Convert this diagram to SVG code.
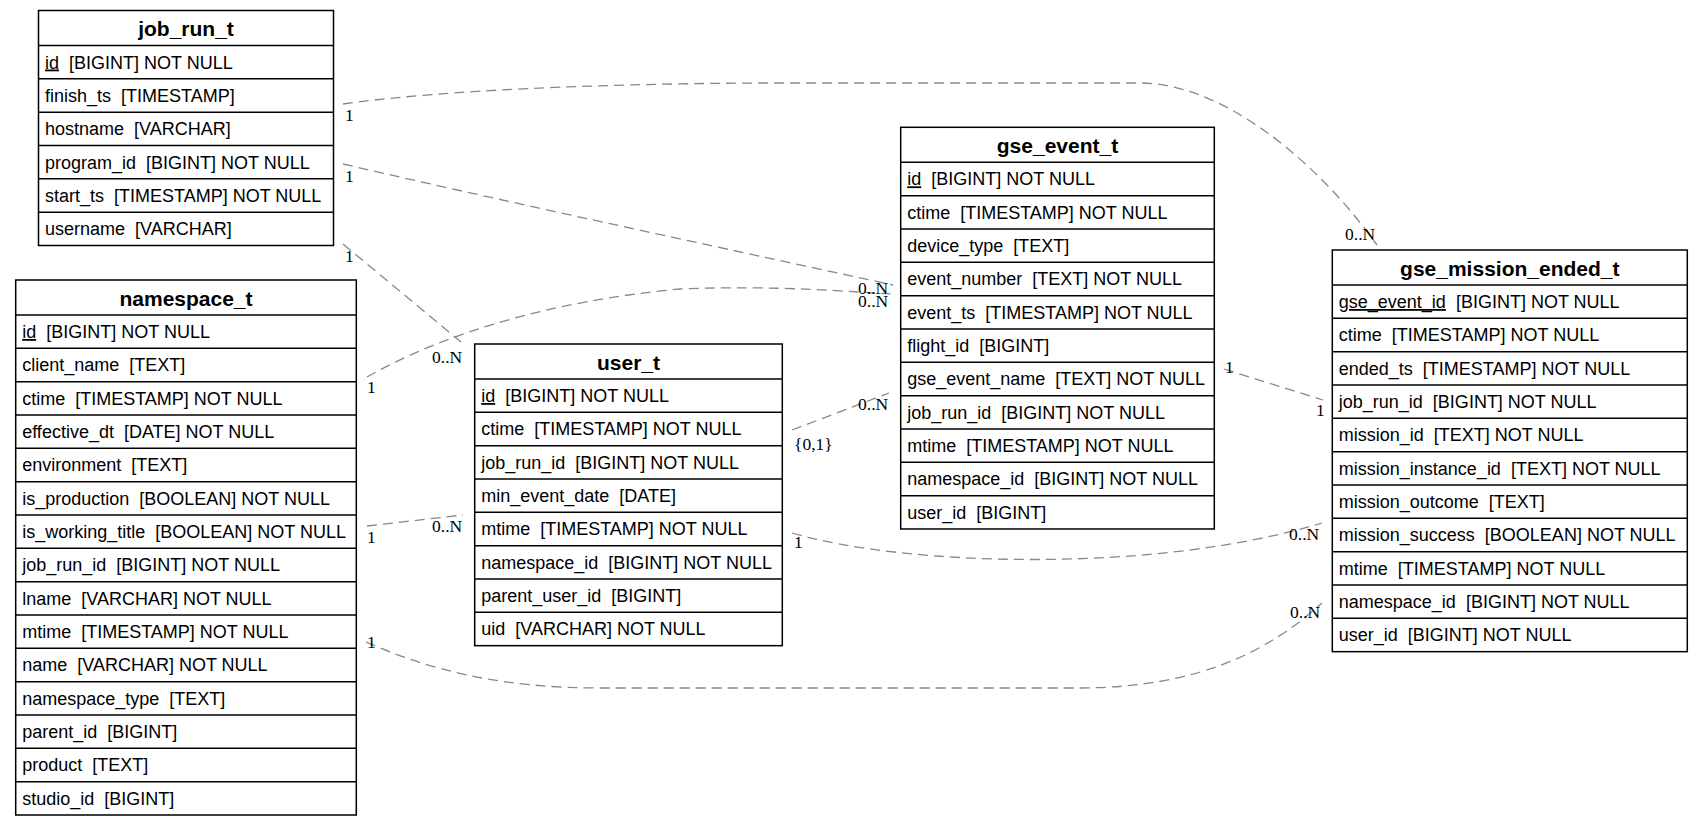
<svg xmlns="http://www.w3.org/2000/svg" width="1703" height="827" viewBox="0 0 1703 827">
<style>
.tbl{fill:#fff;stroke:#000;stroke-width:1.5}
.sep{stroke:#000;stroke-width:1.5}
.hdr{font-family:"Liberation Sans",Arial,sans-serif;font-weight:bold;font-size:21px;text-anchor:middle;fill:#000}
.row{font-family:"Liberation Sans",Arial,sans-serif;font-size:18px;fill:#000;white-space:pre}
.edge{fill:none;stroke:#888;stroke-width:1.3;stroke-dasharray:10,6}
.lbl{font-family:"Liberation Serif","Times New Roman",serif;font-size:17.5px;fill:#000}
</style>
<rect width="1703" height="827" fill="#fff"/>
<g id="connectors">
<path class="edge" d="M343,104 C420,93 560,84 760,83 L1140,83 C1225,83 1320,165 1377,245"/>
<path class="edge" d="M343,164 C520,205 760,256 893,285"/>
<path class="edge" d="M343,244 L461,342"/>
<path class="edge" d="M367,377 C450,330 560,300 680,289 C780,285 850,292 893,294"/>
<path class="edge" d="M367,526 L463,515"/>
<path class="edge" d="M366,642 C430,670 500,688 600,688 L1078,688 C1200,688 1270,650 1322,603"/>
<path class="edge" d="M792,430 L889,393"/>
<path class="edge" d="M792,533 C900,565 1150,575 1322,523"/>
<path class="edge" d="M1224,369 L1323,400"/>
<text class="lbl" x="345" y="121">1</text>
<text class="lbl" x="1345" y="240">0..N</text>
<text class="lbl" x="345" y="182">1</text>
<text class="lbl" x="858" y="294">0..N</text>
<text class="lbl" x="345" y="262">1</text>
<text class="lbl" x="432" y="363">0..N</text>
<text class="lbl" x="367" y="393">1</text>
<text class="lbl" x="858" y="307">0..N</text>
<text class="lbl" x="367" y="543">1</text>
<text class="lbl" x="432" y="532">0..N</text>
<text class="lbl" x="367" y="648">1</text>
<text class="lbl" x="1290" y="618">0..N</text>
<text class="lbl" x="794" y="450">{0,1}</text>
<text class="lbl" x="858" y="410">0..N</text>
<text class="lbl" x="794" y="548">1</text>
<text class="lbl" x="1289" y="540">0..N</text>
<text class="lbl" x="1225" y="373">1</text>
<text class="lbl" x="1316" y="416">1</text>
</g>
<g id="job_run_t">
<rect class="tbl" x="38.5" y="10.5" width="295" height="235"/>
<line class="sep" x1="38.5" y1="45.5" x2="333.5" y2="45.5"/>
<line class="sep" x1="38.5" y1="78.83" x2="333.5" y2="78.83"/>
<line class="sep" x1="38.5" y1="112.17" x2="333.5" y2="112.17"/>
<line class="sep" x1="38.5" y1="145.5" x2="333.5" y2="145.5"/>
<line class="sep" x1="38.5" y1="178.83" x2="333.5" y2="178.83"/>
<line class="sep" x1="38.5" y1="212.17" x2="333.5" y2="212.17"/>
<text class="hdr" x="186" y="36">job_run_t</text>
<text class="row" x="45" y="68.5"><tspan text-decoration="underline">id</tspan>  [BIGINT] NOT NULL</text>
<text class="row" x="45" y="101.8">finish_ts  [TIMESTAMP]</text>
<text class="row" x="45" y="135.2">hostname  [VARCHAR]</text>
<text class="row" x="45" y="168.5">program_id  [BIGINT] NOT NULL</text>
<text class="row" x="45" y="201.8">start_ts  [TIMESTAMP] NOT NULL</text>
<text class="row" x="45" y="235.2">username  [VARCHAR]</text>
</g>
<g id="namespace_t">
<rect class="tbl" x="15.7" y="280" width="340.6" height="535"/>
<line class="sep" x1="15.7" y1="315" x2="356.3" y2="315"/>
<line class="sep" x1="15.7" y1="348.33" x2="356.3" y2="348.33"/>
<line class="sep" x1="15.7" y1="381.67" x2="356.3" y2="381.67"/>
<line class="sep" x1="15.7" y1="415" x2="356.3" y2="415"/>
<line class="sep" x1="15.7" y1="448.33" x2="356.3" y2="448.33"/>
<line class="sep" x1="15.7" y1="481.67" x2="356.3" y2="481.67"/>
<line class="sep" x1="15.7" y1="515" x2="356.3" y2="515"/>
<line class="sep" x1="15.7" y1="548.33" x2="356.3" y2="548.33"/>
<line class="sep" x1="15.7" y1="581.67" x2="356.3" y2="581.67"/>
<line class="sep" x1="15.7" y1="615" x2="356.3" y2="615"/>
<line class="sep" x1="15.7" y1="648.33" x2="356.3" y2="648.33"/>
<line class="sep" x1="15.7" y1="681.67" x2="356.3" y2="681.67"/>
<line class="sep" x1="15.7" y1="715" x2="356.3" y2="715"/>
<line class="sep" x1="15.7" y1="748.33" x2="356.3" y2="748.33"/>
<line class="sep" x1="15.7" y1="781.67" x2="356.3" y2="781.67"/>
<text class="hdr" x="186" y="305.5">namespace_t</text>
<text class="row" x="22.2" y="338"><tspan text-decoration="underline">id</tspan>  [BIGINT] NOT NULL</text>
<text class="row" x="22.2" y="371.3">client_name  [TEXT]</text>
<text class="row" x="22.2" y="404.7">ctime  [TIMESTAMP] NOT NULL</text>
<text class="row" x="22.2" y="438">effective_dt  [DATE] NOT NULL</text>
<text class="row" x="22.2" y="471.3">environment  [TEXT]</text>
<text class="row" x="22.2" y="504.7">is_production  [BOOLEAN] NOT NULL</text>
<text class="row" x="22.2" y="538">is_working_title  [BOOLEAN] NOT NULL</text>
<text class="row" x="22.2" y="571.3">job_run_id  [BIGINT] NOT NULL</text>
<text class="row" x="22.2" y="604.7">lname  [VARCHAR] NOT NULL</text>
<text class="row" x="22.2" y="638">mtime  [TIMESTAMP] NOT NULL</text>
<text class="row" x="22.2" y="671.3">name  [VARCHAR] NOT NULL</text>
<text class="row" x="22.2" y="704.7">namespace_type  [TEXT]</text>
<text class="row" x="22.2" y="738">parent_id  [BIGINT]</text>
<text class="row" x="22.2" y="771.3">product  [TEXT]</text>
<text class="row" x="22.2" y="804.7">studio_id  [BIGINT]</text>
</g>
<g id="user_t">
<rect class="tbl" x="474.7" y="344" width="307.6" height="301.67"/>
<line class="sep" x1="474.7" y1="379" x2="782.3" y2="379"/>
<line class="sep" x1="474.7" y1="412.33" x2="782.3" y2="412.33"/>
<line class="sep" x1="474.7" y1="445.67" x2="782.3" y2="445.67"/>
<line class="sep" x1="474.7" y1="479" x2="782.3" y2="479"/>
<line class="sep" x1="474.7" y1="512.33" x2="782.3" y2="512.33"/>
<line class="sep" x1="474.7" y1="545.67" x2="782.3" y2="545.67"/>
<line class="sep" x1="474.7" y1="579" x2="782.3" y2="579"/>
<line class="sep" x1="474.7" y1="612.33" x2="782.3" y2="612.33"/>
<text class="hdr" x="628.5" y="369.5">user_t</text>
<text class="row" x="481.2" y="402"><tspan text-decoration="underline">id</tspan>  [BIGINT] NOT NULL</text>
<text class="row" x="481.2" y="435.3">ctime  [TIMESTAMP] NOT NULL</text>
<text class="row" x="481.2" y="468.7">job_run_id  [BIGINT] NOT NULL</text>
<text class="row" x="481.2" y="502">min_event_date  [DATE]</text>
<text class="row" x="481.2" y="535.3">mtime  [TIMESTAMP] NOT NULL</text>
<text class="row" x="481.2" y="568.7">namespace_id  [BIGINT] NOT NULL</text>
<text class="row" x="481.2" y="602">parent_user_id  [BIGINT]</text>
<text class="row" x="481.2" y="635.3">uid  [VARCHAR] NOT NULL</text>
</g>
<g id="gse_event_t">
<rect class="tbl" x="900.7" y="127.3" width="313.6" height="401.67"/>
<line class="sep" x1="900.7" y1="162.3" x2="1214.3" y2="162.3"/>
<line class="sep" x1="900.7" y1="195.63" x2="1214.3" y2="195.63"/>
<line class="sep" x1="900.7" y1="228.97" x2="1214.3" y2="228.97"/>
<line class="sep" x1="900.7" y1="262.3" x2="1214.3" y2="262.3"/>
<line class="sep" x1="900.7" y1="295.63" x2="1214.3" y2="295.63"/>
<line class="sep" x1="900.7" y1="328.97" x2="1214.3" y2="328.97"/>
<line class="sep" x1="900.7" y1="362.3" x2="1214.3" y2="362.3"/>
<line class="sep" x1="900.7" y1="395.63" x2="1214.3" y2="395.63"/>
<line class="sep" x1="900.7" y1="428.97" x2="1214.3" y2="428.97"/>
<line class="sep" x1="900.7" y1="462.3" x2="1214.3" y2="462.3"/>
<line class="sep" x1="900.7" y1="495.63" x2="1214.3" y2="495.63"/>
<text class="hdr" x="1057.5" y="152.8">gse_event_t</text>
<text class="row" x="907.2" y="185.3"><tspan text-decoration="underline">id</tspan>  [BIGINT] NOT NULL</text>
<text class="row" x="907.2" y="218.6">ctime  [TIMESTAMP] NOT NULL</text>
<text class="row" x="907.2" y="252">device_type  [TEXT]</text>
<text class="row" x="907.2" y="285.3">event_number  [TEXT] NOT NULL</text>
<text class="row" x="907.2" y="318.6">event_ts  [TIMESTAMP] NOT NULL</text>
<text class="row" x="907.2" y="352">flight_id  [BIGINT]</text>
<text class="row" x="907.2" y="385.3">gse_event_name  [TEXT] NOT NULL</text>
<text class="row" x="907.2" y="418.6">job_run_id  [BIGINT] NOT NULL</text>
<text class="row" x="907.2" y="452">mtime  [TIMESTAMP] NOT NULL</text>
<text class="row" x="907.2" y="485.3">namespace_id  [BIGINT] NOT NULL</text>
<text class="row" x="907.2" y="518.6">user_id  [BIGINT]</text>
</g>
<g id="gse_mission_ended_t">
<rect class="tbl" x="1332.3" y="250" width="355" height="401.67"/>
<line class="sep" x1="1332.3" y1="285" x2="1687.3" y2="285"/>
<line class="sep" x1="1332.3" y1="318.33" x2="1687.3" y2="318.33"/>
<line class="sep" x1="1332.3" y1="351.67" x2="1687.3" y2="351.67"/>
<line class="sep" x1="1332.3" y1="385" x2="1687.3" y2="385"/>
<line class="sep" x1="1332.3" y1="418.33" x2="1687.3" y2="418.33"/>
<line class="sep" x1="1332.3" y1="451.67" x2="1687.3" y2="451.67"/>
<line class="sep" x1="1332.3" y1="485" x2="1687.3" y2="485"/>
<line class="sep" x1="1332.3" y1="518.33" x2="1687.3" y2="518.33"/>
<line class="sep" x1="1332.3" y1="551.67" x2="1687.3" y2="551.67"/>
<line class="sep" x1="1332.3" y1="585" x2="1687.3" y2="585"/>
<line class="sep" x1="1332.3" y1="618.33" x2="1687.3" y2="618.33"/>
<text class="hdr" x="1509.8" y="275.5">gse_mission_ended_t</text>
<text class="row" x="1338.8" y="308"><tspan text-decoration="underline">gse_event_id</tspan>  [BIGINT] NOT NULL</text>
<text class="row" x="1338.8" y="341.3">ctime  [TIMESTAMP] NOT NULL</text>
<text class="row" x="1338.8" y="374.7">ended_ts  [TIMESTAMP] NOT NULL</text>
<text class="row" x="1338.8" y="408">job_run_id  [BIGINT] NOT NULL</text>
<text class="row" x="1338.8" y="441.3">mission_id  [TEXT] NOT NULL</text>
<text class="row" x="1338.8" y="474.7">mission_instance_id  [TEXT] NOT NULL</text>
<text class="row" x="1338.8" y="508">mission_outcome  [TEXT]</text>
<text class="row" x="1338.8" y="541.3">mission_success  [BOOLEAN] NOT NULL</text>
<text class="row" x="1338.8" y="574.7">mtime  [TIMESTAMP] NOT NULL</text>
<text class="row" x="1338.8" y="608">namespace_id  [BIGINT] NOT NULL</text>
<text class="row" x="1338.8" y="641.3">user_id  [BIGINT] NOT NULL</text>
</g>
</svg>
